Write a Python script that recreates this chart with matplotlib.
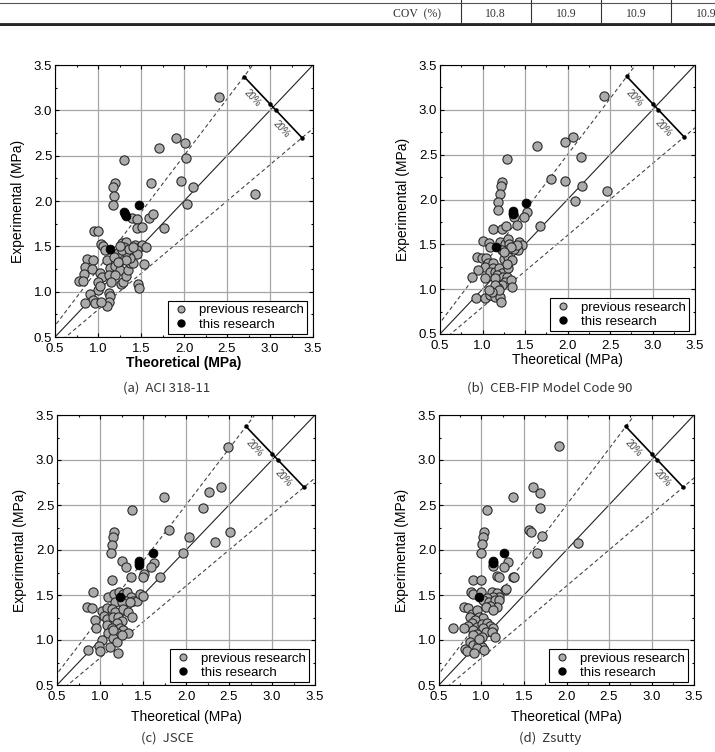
import numpy as np
import matplotlib.pyplot as plt
from matplotlib.ticker import MultipleLocator, FormatStrFormatter
from matplotlib.lines import Line2D

# ---- data (theoretical, experimental) ----
a_prev_x = [2.41, 1.905, 2.01, 1.71, 2.02, 1.305, 1.615, 1.97, 2.11, 2.82, 2.04, 1.77,
            1.20, 1.18, 1.185, 1.18, 1.40, 1.455, 1.595, 1.64, 1.455, 1.51,
            0.957, 0.996, 1.034, 1.054, 1.08, 1.235, 1.28, 1.33, 1.43, 1.495, 1.51, 1.556,
            1.455, 1.40, 1.35, 1.45, 1.11, 1.19, 0.87, 0.945, 0.85, 0.93, 0.84, 0.78, 0.83,
            1.02, 1.05, 1.0, 1.14, 1.20, 1.25, 1.13, 1.20, 1.147, 1.27, 1.29, 1.33, 1.35,
            1.37, 1.41, 1.37, 1.47, 1.475, 1.54, 1.0, 1.02, 0.91, 0.945, 0.97, 0.85, 1.13,
            1.14, 1.13, 1.11, 1.03, 1.30, 1.33, 1.28, 1.25, 1.36, 1.41, 1.32, 1.23]
a_prev_y = [3.15, 2.69, 2.64, 2.59, 2.47, 2.45, 2.20, 2.22, 2.15, 2.08, 1.97, 1.70,
            2.20, 2.15, 2.05, 1.96, 1.81, 1.80, 1.81, 1.86, 1.70, 1.71,
            1.67, 1.67, 1.53, 1.50, 1.46, 1.43, 1.54, 1.55, 1.52, 1.50, 1.52, 1.49,
            1.46, 1.45, 1.42, 1.41, 1.35, 1.38, 1.36, 1.35, 1.27, 1.25, 1.19, 1.12, 1.12,
            1.21, 1.16, 1.11, 1.26, 1.28, 1.24, 1.18, 1.18, 1.11, 1.08, 1.11, 1.17, 1.24,
            1.32, 1.32, 1.37, 1.09, 1.04, 1.30, 1.02, 1.06, 0.97, 0.91, 0.87, 0.88, 0.98,
            0.95, 0.89, 0.84, 0.89, 1.49, 1.44, 1.46, 1.50, 1.47, 1.49, 1.35, 1.33]
a_this_x = [1.305, 1.31, 1.325, 1.48, 1.14]
a_this_y = [1.88, 1.86, 1.84, 1.96, 1.47]

b_prev_x = [2.43, 2.06, 1.97, 1.64, 2.155, 1.284, 1.80, 1.967, 2.167, 2.46, 2.09, 1.68,
            1.225, 1.214, 1.206, 1.186, 1.178, 1.37, 1.41, 1.527, 1.49, 1.12, 1.23, 1.276,
            1.01, 1.08, 1.206, 1.265, 1.304, 1.316, 1.355, 1.433, 1.46, 1.42, 1.37, 1.284,
            1.225, 1.253, 1.304, 1.343, 1.088, 0.93, 0.99, 1.04,
            1.069, 1.029, 1.127, 1.127, 1.088, 1.147, 1.198, 1.225, 1.175, 1.245, 1.284,
            1.265, 1.331, 1.304, 1.284, 1.343, 1.225, 1.147, 1.029, 0.951, 0.873, 0.924,
            1.029, 1.088, 1.147, 1.206, 1.214, 1.186, 1.147, 1.198, 1.108, 1.08,
            1.40, 1.33, 1.25]
b_prev_y = [3.15, 2.70, 2.64, 2.60, 2.47, 2.45, 2.225, 2.207, 2.15, 2.09, 1.98, 1.70,
            2.20, 2.15, 2.06, 1.97, 1.88, 1.81, 1.72, 1.86, 1.81, 1.67, 1.67, 1.705,
            1.54, 1.52, 1.53, 1.50, 1.556, 1.504, 1.474, 1.53, 1.49, 1.437, 1.444, 1.437,
            1.437, 1.333, 1.355, 1.325, 1.466, 1.355, 1.344, 1.344,
            1.288, 1.251, 1.288, 1.232, 1.195, 1.195, 1.232, 1.177, 1.158, 1.139, 1.139,
            1.084, 1.102, 1.232, 1.277, 1.028, 1.046, 1.121, 1.121, 1.214, 1.132, 0.898,
            0.898, 0.935, 0.916, 0.916, 0.86, 1.009, 1.046, 0.991, 0.972, 0.991,
            1.49, 1.47, 1.41]
b_this_x = [1.51, 1.355, 1.36, 1.363, 1.159]
b_this_y = [1.965, 1.87, 1.85, 1.835, 1.474]

c_prev_x = [2.49, 1.745, 2.41, 2.27, 2.20, 1.37, 1.806, 2.04, 2.51, 2.34, 1.97, 1.70,
            1.163, 1.147, 1.136, 1.124, 1.252, 1.299, 1.628, 1.589, 1.357, 1.516, 1.504,
            1.136, 0.923, 1.097, 1.163, 1.225, 1.264, 1.31, 1.357, 1.388, 1.434, 1.465,
            1.496, 1.302, 1.175, 1.252, 1.349, 0.845, 0.903, 1.019, 1.078, 1.136, 1.175,
            1.047, 1.085, 1.155, 1.213, 1.271, 1.33, 1.368, 1.252, 1.194, 0.942, 0.954,
            1.078, 1.136, 1.233, 1.271, 1.33, 1.194, 1.097, 1.155, 1.019, 1.116, 1.194,
            1.252, 0.992, 0.864, 1.0, 1.213, 1.155]
c_prev_y = [3.15, 2.59, 2.70, 2.64, 2.47, 2.45, 2.22, 2.15, 2.20, 2.09, 1.97, 1.70,
            2.20, 2.15, 2.056, 1.963, 1.878, 1.807, 1.859, 1.807, 1.696, 1.733, 1.704,
            1.667, 1.537, 1.474, 1.511, 1.537, 1.511, 1.53, 1.474, 1.437, 1.437, 1.511,
            1.489, 1.437, 1.426, 1.418, 1.426, 1.363, 1.352, 1.326, 1.352, 1.341, 1.315,
            1.267, 1.229, 1.259, 1.259, 1.341, 1.315, 1.259, 1.215, 1.185, 1.222, 1.13,
            1.167, 1.13, 1.13, 1.111, 1.081, 1.074, 1.074, 1.019, 1.0, 0.926, 0.981,
            1.056, 0.933, 0.889, 0.881, 0.852, 1.111]
c_this_x = [1.62, 1.454, 1.454, 1.454, 1.233]
c_this_y = [1.963, 1.88, 1.855, 1.833, 1.474]

d_prev_x = [1.91, 1.606, 1.684, 1.37, 1.688, 1.07, 1.563, 1.579, 1.708, 2.14, 1.649, 1.37,
            1.28, 1.03, 1.014, 1.01, 0.994, 1.132, 1.308, 1.269, 1.186, 1.21, 1.383, 0.9,
            0.99, 1.288, 0.873, 0.904, 0.994, 1.12, 1.179, 1.21, 1.139, 1.061, 1.022, 1.092,
            1.159, 1.21, 1.179, 1.1, 1.053, 1.132, 0.794, 0.845, 0.892, 0.865, 0.951, 0.975,
            1.022, 0.924, 0.885, 0.845, 0.943, 1.002, 1.061, 1.1, 1.139, 1.022, 0.904,
            0.951, 1.053, 1.12, 1.159, 1.002, 0.896, 0.798, 0.669, 0.865, 0.904, 0.975,
            1.002, 0.943, 0.806, 0.834, 0.912, 1.034, 0.975]
d_prev_y = [3.156, 2.696, 2.637, 2.593, 2.47, 2.45, 2.222, 2.204, 2.156, 2.08, 1.971, 1.70,
            1.56, 2.204, 2.148, 2.063, 1.971, 1.823, 1.863, 1.815, 1.712, 1.697, 1.697, 1.667,
            1.667, 1.563, 1.537, 1.511, 1.537, 1.537, 1.519, 1.482, 1.474, 1.471, 1.445, 1.426,
            1.445, 1.445, 1.371, 1.378, 1.371, 1.333, 1.363, 1.352, 1.285, 1.259, 1.333, 1.259,
            1.241, 1.222, 1.186, 1.156, 1.148, 1.178, 1.186, 1.156, 1.13, 1.13, 1.112,
            1.063, 1.093, 1.093, 1.037, 1.037, 1.056, 1.13, 1.13, 0.982, 0.945, 0.971,
            0.926, 0.907, 0.897, 0.882, 0.852, 0.889, 1.008]
d_this_x = [1.269, 1.132, 1.136, 1.14, 0.975]
d_this_y = [1.963, 1.882, 1.865, 1.852, 1.474]

captions = ['(a)  ACI 318-11', '(b)  CEB-FIP Model Code 90', '(c)  JSCE', '(d)  Zsutty']
cov_label = 'COV  (%)'
cov_values = ['10.8', '10.9', '10.9', '10.9']

ratio_hi = 1.25   # upper dashed bound
ratio_lo = 0.8    # lower dashed bound

plt.rcParams['font.family'] = ['Liberation Sans', 'DejaVu Sans']

fig = plt.figure(figsize=(7.15, 7.52), dpi=100)

# axes boxes in pixels: left, top, right, bottom
boxes = [(55, 65, 313, 337), (440, 65, 695, 334), (57, 415, 315, 685), (439, 415, 694, 685)]
cap_pos = [(167, 388), (550, 388), (167, 738), (550, 738)]
panels = [(a_prev_x, a_prev_y, a_this_x, a_this_y),
          (b_prev_x, b_prev_y, b_this_x, b_this_y),
          (c_prev_x, c_prev_y, c_this_x, c_this_y),
          (d_prev_x, d_prev_y, d_this_x, d_this_y)]

W, H = 715, 752
for k, (box, data) in enumerate(zip(boxes, panels)):
    l, t, r, b = box
    ax = fig.add_axes([l / W, 1 - b / H, (r - l) / W, (b - t) / H])
    px, py, tx, ty = data

    ax.set_xlim(0.5, 3.5)
    ax.set_ylim(0.5, 3.5)
    ax.grid(True, color='#a6a6a6', lw=0.9, zorder=0)

    line = np.array([0.0, 4.0])
    ax.plot(line, line, color='#222222', lw=0.8, zorder=1)
    ax.plot(line, ratio_hi * line, color='#444444', lw=0.8, ls=(0, (3.5, 2.5)), zorder=1)
    ax.plot(line, ratio_lo * line, color='#444444', lw=0.8, ls=(0, (3.5, 2.5)), zorder=1)

    ax.scatter(px, py, s=44, facecolor='#ababab', edgecolor='#2a2a2a', lw=0.8, zorder=3)
    ax.scatter(tx, ty, s=40, facecolor='black', edgecolor='black', lw=0.6, zorder=4)

    # perpendicular 20% marker across the bounds
    s = 6.07
    xh = s / (1 + ratio_hi)
    xl = s / (1 + ratio_lo)
    xm = s / 2
    d = 0.035
    ax.plot([xh, xl], [ratio_hi * xh, ratio_lo * xl], color='black', lw=1.2, zorder=5)
    ax.plot([xh, xm - d, xm + d, xl], [ratio_hi * xh, xm + d, xm - d, ratio_lo * xl],
            ls='none', marker='o', ms=2.2, color='black', zorder=5)
    ax.text(2.79, 3.13, '20%', rotation=-47, ha='center', va='center',
            fontsize=7, color='#444444', zorder=5)
    ax.text(3.13, 2.795, '20%', rotation=-47, ha='center', va='center',
            fontsize=7, color='#444444', zorder=5)

    ax.xaxis.set_major_locator(MultipleLocator(0.5))
    ax.yaxis.set_major_locator(MultipleLocator(0.5))
    ax.xaxis.set_minor_locator(MultipleLocator(0.25))
    ax.yaxis.set_minor_locator(MultipleLocator(0.25))
    ax.xaxis.set_major_formatter(FormatStrFormatter('%.1f'))
    ax.yaxis.set_major_formatter(FormatStrFormatter('%.1f'))
    ax.tick_params(which='both', direction='in', top=True, right=True,
                   labelsize=9.5, width=0.8, color='black')
    ax.tick_params(axis='y', pad=2)
    ax.tick_params(axis='x', pad=4)
    ax.tick_params(which='major', length=3)
    ax.tick_params(which='minor', length=1.5)
    for sp in ax.spines.values():
        sp.set_linewidth(0.8)
        sp.set_color('black')

    ax.set_xlabel('Theoretical (MPa)', fontsize=10, labelpad=1 if k < 2 else 5,
                  fontweight='bold' if k == 0 else 'normal')
    ax.set_ylabel('Experimental (MPa)', fontsize=10, labelpad=6)

    handles = [Line2D([], [], ls='none', marker='o', ms=5, mfc='#ababab', mec='#2a2a2a', mew=0.8),
               Line2D([], [], ls='none', marker='o', ms=5, mfc='black', mec='black')]
    leg = ax.legend(handles, ['previous research', 'this research'], loc='lower right',
                    bbox_to_anchor=(0.977, 0.011), borderaxespad=0, fontsize=9.5,
                    frameon=True, fancybox=False, framealpha=1, edgecolor='black',
                    handletextpad=0.6, handlelength=1.5, borderpad=0.25, labelspacing=0.15)
    leg.get_frame().set_linewidth(0.8)

    cx, cy = cap_pos[k]
    fig.text(cx / W, 1 - cy / H, captions[k], ha='center', va='center', fontsize=9.5,
             color='#333333', family=['Noto Sans CJK KR', 'DejaVu Sans'])

# fragment of the table above the figure
tab = fig.add_axes([0, 1 - 26 / H, 1, 26 / H])
tab.set_xlim(0, W)
tab.set_ylim(26, 0)
tab.axis('off')
tab.plot([0, W], [3.3, 3.3], color='#555555', lw=0.8)
tab.plot([0, W], [22.7, 22.7], color='#333333', lw=0.7)
tab.plot([0, W], [24.6, 24.6], color='#222222', lw=1.4)
for vx in [460.5, 530.5, 601, 670.5]:
    tab.plot([vx, vx], [0, 22.7], color='#333333', lw=0.8)
tab.text(417, 14, cov_label, ha='center', va='center', fontsize=8.5, color='#333333',
         family=['Liberation Serif', 'DejaVu Serif'])
for vx, val in zip([495.5, 566, 636, 706], cov_values):
    tab.text(vx, 14, val, ha='center', va='center', fontsize=8.5, color='#333333',
             family=['Liberation Serif', 'DejaVu Serif'])

fig.savefig('out.png', dpi=100)
